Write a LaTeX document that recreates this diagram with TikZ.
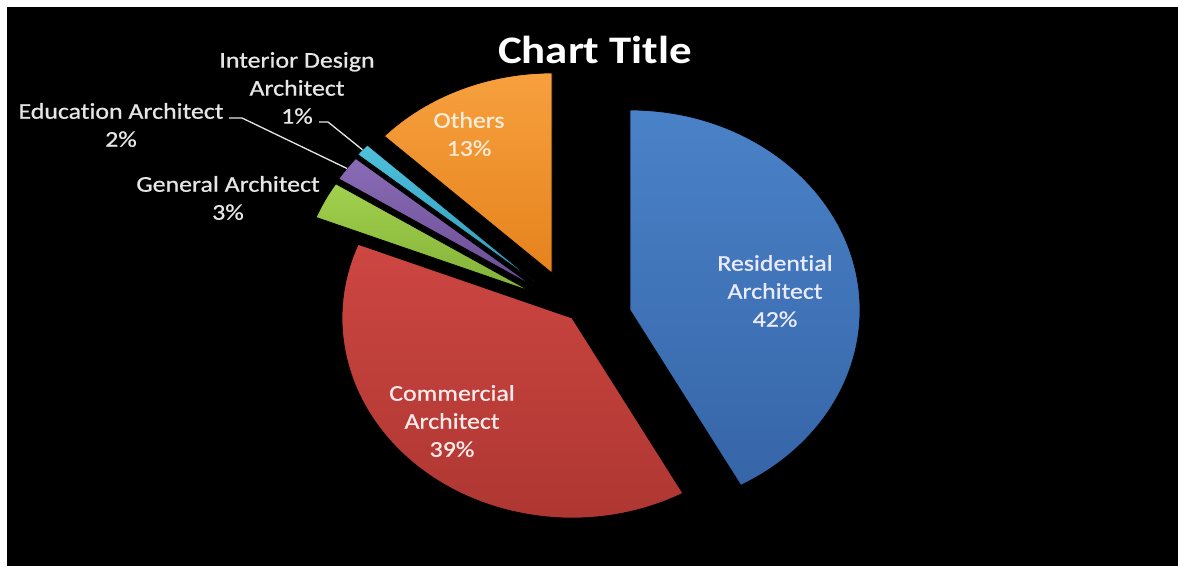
\documentclass[tikz,border=0pt]{standalone}
\usepackage{fontspec}
\setmainfont{Carlito}[FakeStretch=1.15, Ligatures=NoCommon]
\newfontfamily\lblfont{Carlito}[FakeStretch=1.15, FakeBold=0.8, Ligatures=NoCommon]
\definecolor{lblgray}{HTML}{E6E6E6}
\definecolor{blueT}{HTML}{4A82C8}
\definecolor{blueB}{HTML}{3665A8}
\definecolor{redT}{HTML}{CD4642}
\definecolor{redB}{HTML}{AB3530}
\definecolor{greenT}{HTML}{A2D04E}
\definecolor{greenB}{HTML}{82B238}
\definecolor{purpT}{HTML}{8A6BB5}
\definecolor{purpB}{HTML}{6A4E96}
\definecolor{cyanT}{HTML}{4FC0DC}
\definecolor{cyanB}{HTML}{2E9AB8}
\definecolor{orT}{HTML}{F7A03E}
\definecolor{orB}{HTML}{E5831C}
\begin{document}
\begin{tikzpicture}[x=1pt,y=1pt,
  lbl/.style={text=lblgray, font=\lblfont\fontsize{22.5}{28}\selectfont, align=center, inner sep=0pt},
  inlbl/.style={lbl, text=#1},
  slice/.style={draw=black, line width=0.7pt},
  leader/.style={draw=lblgray, line width=1.3pt}]
\fill[white] (0,0) rectangle (1178,566);
\fill[black] (7,0) rectangle (1178,559);
\useasboundingbox (0,0) rectangle (1178,566);
% apexes
\coordinate (cB) at (630,256);
\coordinate (cR) at (572,248);
\coordinate (cG) at (530,275);
\coordinate (cP) at (533,280);
\coordinate (cC) at (535,284);
\coordinate (cO) at (552,293);
% slices
\draw[slice, top color=blueT, bottom color=blueB] (cB) -- ++(90:230 and 200)
  arc[start angle=90, end angle=-61.2, x radius=230, y radius=200] -- cycle;
\draw[slice, top color=redT, bottom color=redB] (cR) -- ++(-61.2:230 and 200)
  arc[start angle=-61.2, end angle=-201.6, x radius=230, y radius=200] -- cycle;
\draw[slice, top color=greenT, bottom color=greenB] (cG) -- ++(158.4:230 and 200)
  arc[start angle=158.4, end angle=147.6, x radius=230, y radius=200] -- cycle;
\draw[slice, top color=purpT, bottom color=purpB] (cP) -- ++(147.6:230 and 200)
  arc[start angle=147.6, end angle=140.4, x radius=230, y radius=200] -- cycle;
\draw[slice, top color=cyanT, bottom color=cyanB] (cC) -- ++(140.4:230 and 200)
  arc[start angle=140.4, end angle=136.8, x radius=230, y radius=200] -- cycle;
\draw[slice, top color=orT, bottom color=orB] (cO) -- ++(136.8:230 and 200)
  arc[start angle=136.8, end angle=90, x radius=230, y radius=200] -- cycle;
% leader targets
\path (cP) ++(144:230 and 200) coordinate (pE);
\path (cC) ++(138.6:230 and 200) coordinate (cE);
% title
\node[text=white, font=\fontsize{39}{47}\bfseries\selectfont, inner sep=0pt] (title) at (595,516) {Chart Title};
% labels
\node[lbl] (interior) at (297,478) {Interior Design\\Architect\\1\%};
\node[lbl] (education) at (121,441) {Education Architect\\2\%};
\node[lbl] (general) at (228,368) {General Architect\\3\%};
\node[inlbl={orange!15!white}] (others) at (469,432) {Others\\13\%};
\node[inlbl={blue!8!white}] (residential) at (775,275) {Residential\\Architect\\42\%};
\node[inlbl={red!8!white}] (commercial) at (452,145) {Commercial\\Architect\\39\%};
% leaders
\coordinate (eduL) at (229,448);
\coordinate (intL) at (319,444);
\draw[leader] (eduL) -- ++(13,0) -- (pE);
\draw[leader] (intL) -- ++(9,0) -- (cE);
\end{tikzpicture}
\end{document}
